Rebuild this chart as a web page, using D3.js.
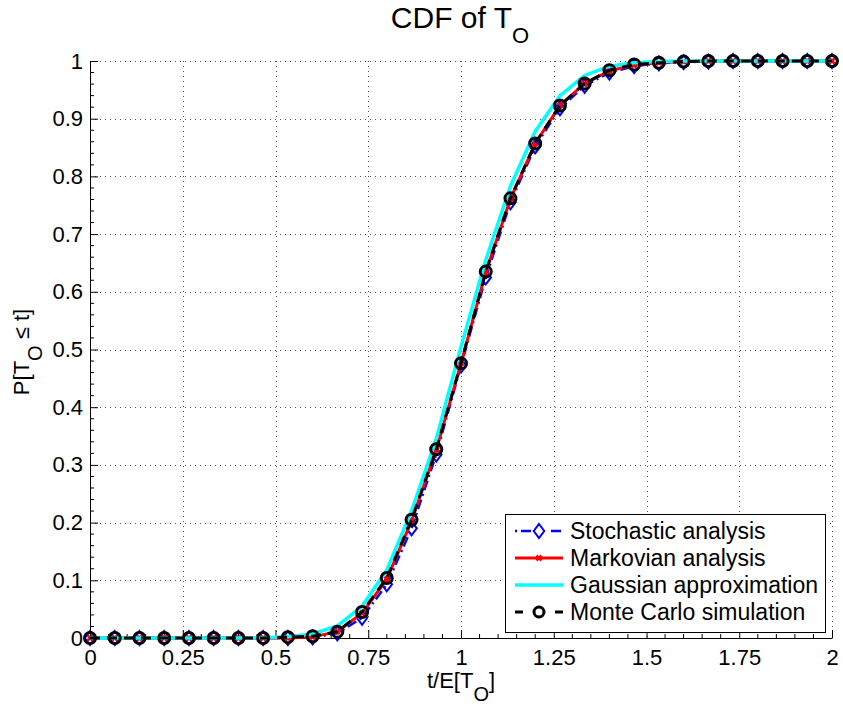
<!DOCTYPE html>
<html>
<head>
<meta charset="utf-8">
<script src="https://cdn.jsdelivr.net/npm/d3@7"></script>
<style>
  body { margin: 0; background: #fff; }
  svg { display: block; font-family: "Liberation Sans", Arial, Helvetica, sans-serif; }
</style>
</head>
<body>
<div id="chart"></div>
<script>
// ---- data ----
const xValues = [0, 0.0667, 0.1333, 0.2, 0.2667, 0.3333, 0.4, 0.4667, 0.5333, 0.6, 0.6667,
  0.7333, 0.8, 0.8667, 0.9333, 1.0, 1.0667, 1.1333, 1.2, 1.2667, 1.3333,
  1.4, 1.4667, 1.5333, 1.6, 1.6667, 1.7333, 1.8, 1.8667, 1.9333, 2.0];
const stochastic = [0, 0, 0, 0, 0, 0, 0, 0, 0, 0.001, 0.008,
  0.035, 0.093, 0.19, 0.318, 0.472, 0.625, 0.755, 0.852, 0.918, 0.957,
  0.98, 0.991, 0.996, 0.998, 0.999, 1, 1, 1, 1, 1];
const markovian = [0, 0, 0, 0, 0, 0, 0, 0, 0, 0.002, 0.011,
  0.043, 0.102, 0.203, 0.326, 0.476, 0.634, 0.761, 0.857, 0.923, 0.961,
  0.983, 0.993, 0.997, 0.999, 1, 1, 1, 1, 1, 1];
const gaussian = [0, 0, 0, 0, 0, 0, 0, 0.0005, 0.002, 0.007, 0.021,
  0.055, 0.118, 0.22, 0.345, 0.505, 0.655, 0.783, 0.878, 0.94, 0.975,
  0.991, 0.997, 0.999, 1, 1, 1, 1, 1, 1, 1];
const monteCarlo = [0, 0, 0, 0, 0, 0, 0, 0, 0.0015, 0.003, 0.011,
  0.045, 0.104, 0.205, 0.327, 0.476, 0.635, 0.762, 0.857, 0.923, 0.961,
  0.984, 0.994, 0.997, 0.999, 1, 1, 1, 1, 1, 1];
const xTicks = [0, 0.25, 0.5, 0.75, 1, 1.25, 1.5, 1.75, 2];
const xTickLabels = ["0", "0.25", "0.5", "0.75", "1", "1.25", "1.5", "1.75", "2"];
const yTicks = [0, 0.1, 0.2, 0.3, 0.4, 0.5, 0.6, 0.7, 0.8, 0.9, 1];
const yTickLabels = ["0", "0.1", "0.2", "0.3", "0.4", "0.5", "0.6", "0.7", "0.8", "0.9", "1"];
const seriesNames = ["Stochastic analysis", "Markovian analysis", "Gaussian approximation", "Monte Carlo simulation"];

// ---- layout ----
const W = 843, H = 706;
const pL = 90, pR = 832, pT = 61, pB = 638;
const FS = 22;

const svg = d3.select("#chart").append("svg").attr("width", W).attr("height", H);
const x = d3.scaleLinear().domain([0, 2]).range([pL, pR]);
const y = d3.scaleLinear().domain([0, 1]).range([pB, pT]);

// grid
const grid = svg.append("g").attr("stroke", "#555").attr("stroke-width", 1)
  .attr("stroke-dasharray", "1,4").attr("shape-rendering", "crispEdges");
xTicks.slice(1).forEach(t => {
  grid.append("line").attr("x1", Math.round(x(t)) + 0.5).attr("x2", Math.round(x(t)) + 0.5)
    .attr("y1", pT).attr("y2", pB);
});
yTicks.slice(1).forEach(t => {
  grid.append("line").attr("y1", Math.round(y(t)) + 0.5).attr("y2", Math.round(y(t)) + 0.5)
    .attr("x1", pL).attr("x2", pR);
});

// axes (ticks inward)
const xAxis = d3.axisBottom(x).tickValues(xTicks).tickFormat((d, i) => xTickLabels[i])
  .tickSizeInner(-8).tickSizeOuter(0).tickPadding(11);
const yAxis = d3.axisLeft(y).tickValues(yTicks).tickFormat((d, i) => yTickLabels[i])
  .tickSizeInner(-8).tickSizeOuter(0).tickPadding(7);

const gx = svg.append("g").attr("transform", `translate(0,${pB})`).call(xAxis);
const gy = svg.append("g").attr("transform", `translate(${pL},0)`).call(yAxis);
[gx, gy].forEach(g => {
  g.selectAll("text").attr("font-size", FS).attr("fill", "#000")
    .attr("font-family", "'Liberation Sans', Arial, sans-serif");
  g.selectAll("line, path").attr("stroke", "#000");
});
gx.selectAll("text").attr("dy", "0.71em");

// minor ticks
const xMinor = d3.range(0, 2.0001, 0.05).filter(v => !xTicks.some(t => Math.abs(t - v) < 1e-6));
const yMinor = d3.range(0, 1.0001, 0.02).filter(v => !yTicks.some(t => Math.abs(t - v) < 1e-6));
svg.append("g").selectAll("line").data(xMinor).join("line")
  .attr("x1", d => x(d)).attr("x2", d => x(d)).attr("y1", pB).attr("y2", pB - 4)
  .attr("stroke", "#000").attr("stroke-width", 1);
svg.append("g").selectAll("line").data(yMinor).join("line")
  .attr("x1", pL).attr("x2", pL + 4).attr("y1", d => y(d)).attr("y2", d => y(d))
  .attr("stroke", "#000").attr("stroke-width", 1);

// series
const line = d3.line().x(d => x(d[0])).y(d => y(d[1]));
const zipData = vals => xValues.map((xv, i) => [xv, vals[i]]);

const plot = svg.append("g");
function diamond(g, cx, cy, s, color) {
  g.append("path").attr("d", `M${cx},${cy - s}L${cx + s * 0.75},${cy}L${cx},${cy + s}L${cx - s * 0.75},${cy}Z`)
    .attr("fill", "none").attr("stroke", color).attr("stroke-width", 2);
}
function cross(g, cx, cy, s, color) {
  g.append("path").attr("d", `M${cx - s},${cy - s}L${cx + s},${cy + s}M${cx - s},${cy + s}L${cx + s},${cy - s}`)
    .attr("stroke", color).attr("stroke-width", 2.5);
}
function circ(g, cx, cy, r) {
  g.append("circle").attr("cx", cx).attr("cy", cy).attr("r", r)
    .attr("fill", "none").attr("stroke", "#000").attr("stroke-width", 3);
}

// Stochastic
const dS = zipData(stochastic);
plot.append("path").datum(dS).attr("d", line).attr("fill", "none")
  .attr("stroke", "#0000ff").attr("stroke-width", 2.5).attr("stroke-dasharray", "10,4,2,4");
dS.forEach(d => diamond(plot, x(d[0]), y(d[1]), 7, "#0000ff"));
// Markovian
const dM = zipData(markovian);
plot.append("path").datum(dM).attr("d", line).attr("fill", "none")
  .attr("stroke", "#ff0000").attr("stroke-width", 3);
dM.forEach(d => cross(plot, x(d[0]), y(d[1]), 2.5, "#ff0000"));
// Gaussian
const dG = zipData(gaussian);
plot.append("path").datum(dG).attr("d", line).attr("fill", "none")
  .attr("stroke", "#00ffff").attr("stroke-width", 3.5);
// Monte Carlo
const dC = zipData(monteCarlo);
plot.append("path").datum(dC).attr("d", line).attr("fill", "none")
  .attr("stroke", "#000").attr("stroke-width", 3).attr("stroke-dasharray", "10,7");
dC.forEach(d => circ(plot, x(d[0]), y(d[1]), 5.5));

// legend
const lg = svg.append("g");
const lx = 505, ly = 514, lw = 320, lh = 118;
lg.append("rect").attr("x", lx + 0.5).attr("y", ly + 0.5).attr("width", lw).attr("height", lh)
  .attr("fill", "#fff").attr("stroke", "#000").attr("stroke-width", 1);
const rowY = [531, 558, 585, 612];
const sx1 = 515, sx2 = 563, sxm = 539;
lg.append("line").attr("x1", sx1).attr("x2", sx2).attr("y1", rowY[0]).attr("y2", rowY[0])
  .attr("stroke", "#0000ff").attr("stroke-width", 2.5).attr("stroke-dasharray", "2,4,10,20,10");
diamond(lg, sxm, rowY[0], 7, "#0000ff");
lg.append("line").attr("x1", sx1).attr("x2", sx2).attr("y1", rowY[1]).attr("y2", rowY[1])
  .attr("stroke", "#ff0000").attr("stroke-width", 3);
cross(lg, sxm, rowY[1], 2.5, "#ff0000");
lg.append("line").attr("x1", sx1).attr("x2", sx2).attr("y1", rowY[2]).attr("y2", rowY[2])
  .attr("stroke", "#00ffff").attr("stroke-width", 3.5);
lg.append("line").attr("x1", sx1).attr("x2", sx2).attr("y1", rowY[3]).attr("y2", rowY[3])
  .attr("stroke", "#000").attr("stroke-width", 3).attr("stroke-dasharray", "8,32,8");
circ(lg, sxm, rowY[3], 5);
seriesNames.forEach((n, i) => {
  lg.append("text").attr("x", 570).attr("y", rowY[i]).attr("dy", "0.36em")
    .attr("font-size", 23).attr("fill", "#000").text(n);
});

// title
const title = svg.append("text").attr("x", 460).attr("y", 28).attr("text-anchor", "middle")
  .attr("font-size", 30).attr("fill", "#000");
title.append("tspan").text("CDF of T");
title.append("tspan").attr("dy", 15).attr("font-size", 22).text("O");

// x label
const xl = svg.append("text").attr("x", 461).attr("y", 688).attr("text-anchor", "middle")
  .attr("font-size", FS).attr("fill", "#000");
xl.append("tspan").text("t/E[T");
xl.append("tspan").attr("dy", 13).attr("font-size", 20).text("O");
xl.append("tspan").attr("dy", -13).text("]");

// y label
const yl = svg.append("text").attr("transform", "translate(29,352) rotate(-90)")
  .attr("text-anchor", "middle").attr("font-size", FS).attr("fill", "#000");
yl.append("tspan").text("P[T");
yl.append("tspan").attr("dy", 13).attr("font-size", 20).text("O");
yl.append("tspan").attr("dy", -13).text(" \u2264 t]");
</script>
</body>
</html>
